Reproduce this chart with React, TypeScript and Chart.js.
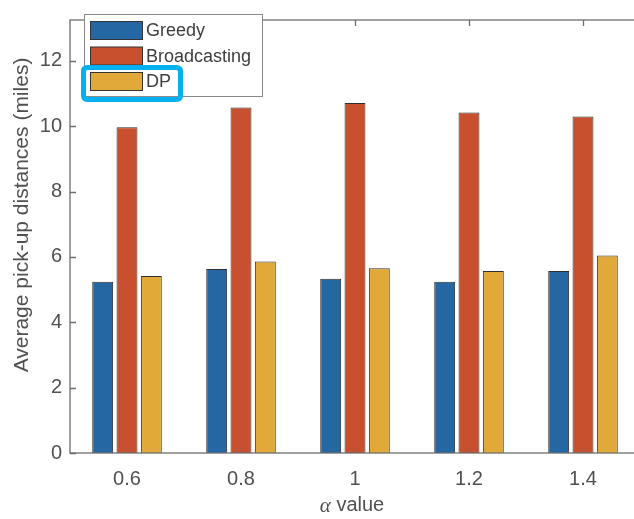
import React, { useEffect, useRef } from "react";
import { Chart, registerables } from "chart.js";

Chart.register(...registerables);

const categories = ["0.6", "0.8", "1", "1.2", "1.4"];
const greedy = [5.24, 5.63, 5.33, 5.24, 5.57];
const broadcasting = [9.97, 10.57, 10.71, 10.42, 10.3];
const dp = [5.42, 5.86, 5.65, 5.57, 6.04];
const yTicks = [0, 2, 4, 6, 8, 10, 12];
const seriesNames = ["Greedy", "Broadcasting", "DP"];
const seriesColors = ["#2467a3", "#c8502f", "#e1a93a"];
const xTitleSymbol = "α";
const xTitleText = " value";
const yTitleText = "Average pick-up distances (miles)";

const FONT = "'Liberation Sans', Arial, Helvetica, sans-serif";
const TEXT = "#505050";
const AXIS = "#6e6e6e";

const framePlugin = {
  id: "matlabFrame",
  afterDraw(chart: any) {
    const { ctx, chartArea: a, scales } = chart;
    ctx.save();
    ctx.strokeStyle = AXIS;
    ctx.lineWidth = 1.3;
    ctx.strokeRect(a.left, a.top, a.right - a.left, a.bottom - a.top);
    const tl = 6;
    ctx.beginPath();
    for (const v of yTicks) {
      const y = Math.round(scales.y.getPixelForValue(v)) + 0.5;
      ctx.moveTo(a.left, y);
      ctx.lineTo(a.left + tl, y);
      ctx.moveTo(a.right, y);
      ctx.lineTo(a.right - tl, y);
    }
    categories.forEach((_, i) => {
      const x = Math.round(scales.x.getPixelForValue(i)) + 0.5;
      ctx.moveTo(x, a.bottom);
      ctx.lineTo(x, a.bottom - tl);
      ctx.moveTo(x, a.top);
      ctx.lineTo(x, a.top + tl);
    });
    ctx.stroke();

    // axis titles
    ctx.fillStyle = TEXT;
    ctx.textBaseline = "middle";
    const symFont = "italic 21px 'Liberation Serif', 'DejaVu Serif', serif";
    const txtFont = `20px ${FONT}`;
    ctx.font = symFont;
    const w1 = ctx.measureText(xTitleSymbol).width;
    ctx.font = txtFont;
    const w2 = ctx.measureText(xTitleText).width;
    const x0 = 352 - (w1 + w2) / 2;
    ctx.textAlign = "left";
    ctx.font = symFont;
    ctx.fillText(xTitleSymbol, x0, 506);
    ctx.font = txtFont;
    ctx.fillText(xTitleText, x0 + w1, 505);

    ctx.save();
    ctx.translate(22, 215);
    ctx.rotate(-Math.PI / 2);
    ctx.textAlign = "center";
    ctx.font = `21px ${FONT}`;
    ctx.fillText(yTitleText, 0, 0);
    ctx.restore();

    // legend
    const lx = 84.5, ly = 14.5, lw = 178, lh = 82;
    ctx.fillStyle = "#ffffff";
    ctx.fillRect(lx, ly, lw, lh);
    ctx.strokeStyle = "#8a8a8a";
    ctx.lineWidth = 1;
    ctx.strokeRect(lx, ly, lw, lh);
    ctx.font = `18px ${FONT}`;
    ctx.textBaseline = "middle";
    ctx.textAlign = "left";
    chart.data.datasets.forEach((ds: any, i: number) => {
      const sy = 21.5 + i * 25.5;
      ctx.fillStyle = ds.backgroundColor;
      ctx.fillRect(90.5, sy, 52, 18);
      ctx.strokeStyle = "#333333";
      ctx.strokeRect(90.5, sy, 52, 18);
      ctx.fillStyle = "#3e3e3e";
      ctx.fillText(ds.label, 146, sy + 10);
    });

    // highlight box
    ctx.strokeStyle = "#00b0f0";
    ctx.lineWidth = 5;
    const hx = 83.5, hy = 67.5, hw = 97, hh = 32, r = 4;
    ctx.beginPath();
    ctx.moveTo(hx + r, hy);
    ctx.lineTo(hx + hw - r, hy);
    ctx.quadraticCurveTo(hx + hw, hy, hx + hw, hy + r);
    ctx.lineTo(hx + hw, hy + hh - r);
    ctx.quadraticCurveTo(hx + hw, hy + hh, hx + hw - r, hy + hh);
    ctx.lineTo(hx + r, hy + hh);
    ctx.quadraticCurveTo(hx, hy + hh, hx, hy + hh - r);
    ctx.lineTo(hx, hy + r);
    ctx.quadraticCurveTo(hx, hy, hx + r, hy);
    ctx.closePath();
    ctx.stroke();
    ctx.restore();
  },
};

export default function App() {
  const ref = useRef<HTMLCanvasElement>(null);
  useEffect(() => {
    document.body.style.margin = "0";
    const series = [greedy, broadcasting, dp];
    const chart = new Chart(ref.current!, {
      type: "bar",
      data: {
        labels: categories,
        datasets: series.map((d, i) => ({
          label: seriesNames[i],
          data: d,
          backgroundColor: seriesColors[i],
          borderColor: "#2e2e2e",
          borderWidth: 1,
          categoryPercentage: 0.64,
          barPercentage: 0.86,
        })),
      },
      options: {
        animation: false,
        responsive: false,
        maintainAspectRatio: false,
        layout: { padding: { top: 10, right: 6, left: 0, bottom: 0 } },
        plugins: { legend: { display: false }, tooltip: { enabled: false } },
        scales: {
          x: {
            grid: { display: false, drawTicks: false },
            border: { display: false },
            ticks: { color: TEXT, font: { family: FONT, size: 20 }, padding: 14 },
            afterFit: (s: any) => {
              s.height = 66;
            },
          },
          y: {
            min: 0,
            max: 13.25,
            grid: { display: false, drawTicks: false },
            border: { display: false },
            ticks: { color: TEXT, font: { family: FONT, size: 20 }, padding: 8 },
            afterBuildTicks: (s: any) => {
              s.ticks = yTicks.map((v) => ({ value: v }));
            },
            afterFit: (s: any) => {
              s.width = 70;
            },
          },
        },
      },
      plugins: [framePlugin],
    });
    return () => chart.destroy();
  }, []);
  return (
    <div style={{ width: 634, height: 519, overflow: "hidden", background: "#fff" }}>
      <canvas ref={ref} width={646} height={519} style={{ display: "block" }} />
    </div>
  );
}
